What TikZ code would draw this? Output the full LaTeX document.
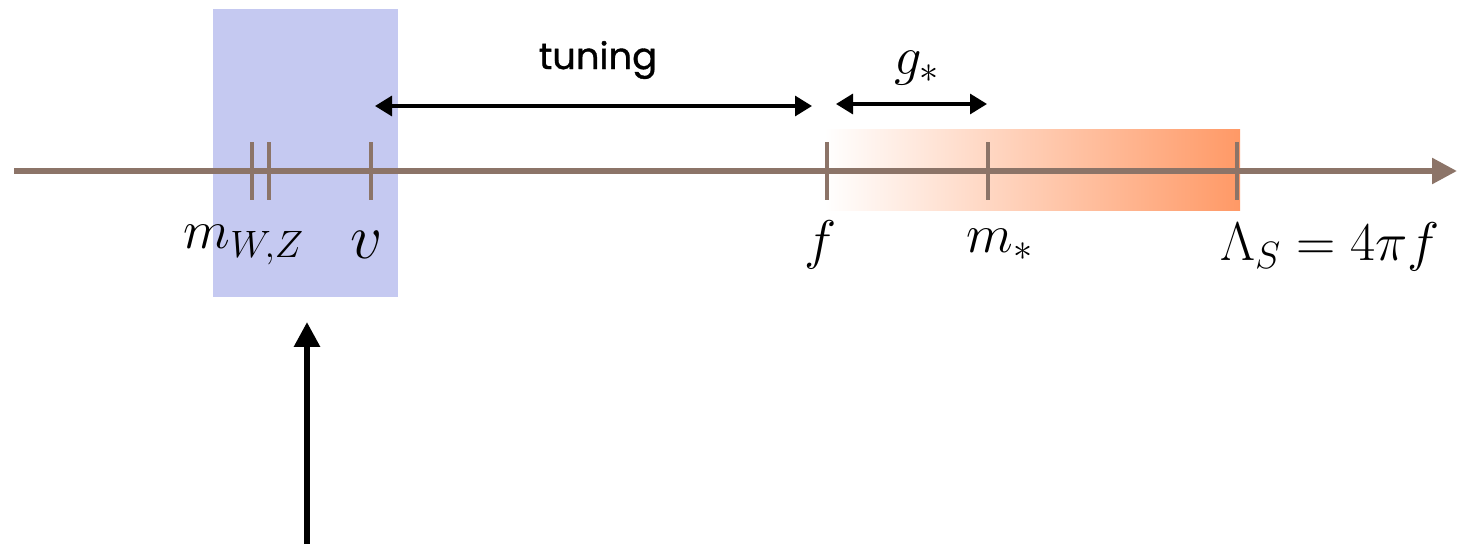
\RequirePackage{fix-cm}
\documentclass[tikz,border=0pt]{standalone}
\usepackage{fontspec}
\newfontfamily\tunefont[FakeBold=1]{Poppins}
\usetikzlibrary{arrows.meta}
\definecolor{ewsb}{HTML}{C5C9F1}
\definecolor{axis}{HTML}{8C7468}
\definecolor{peach}{HTML}{FF9966}

\begin{document}
\begin{tikzpicture}[x=0.02cm,y=-0.02cm,
   tick/.style={draw=axis,line width=2pt},
   lbl/.style={font=\fontsize{31}{38}\selectfont,inner sep=0pt},
   span/.style={{Triangle[length=0.34cm,width=0.4cm]}-{Triangle[length=0.34cm,width=0.4cm]},line width=1.8pt}]
  \useasboundingbox (0,0) rectangle (1457,544);
  % shaded regions
  \fill[ewsb] (213,9) rectangle (398,297);
  \shade[left color=white,right color=peach] (824,130) rectangle (1240,210);
  % energy axis
  \coordinate (start) at (14,171);
  \coordinate (end) at (1457,171);
  \draw[axis,line width=3.2pt,-{Triangle[length=0.5cm,width=0.5cm]}] (start) -- (end);
  \foreach \x/\n in {252/mw,269/mz,371/vt,827/ft,988/mt,1237/lt}
    \draw[tick] (\x,142) coordinate (\n) -- (\x,200);
  % scale labels
  \node[lbl] (mwz) at (244,245) {$m_{W,Z}$};
  \node[lbl,font=\fontsize{36}{42}\selectfont] (vev) at (367,245) {$v$};
  \node[lbl] (fs) at (821,245) {$f$};
  \node[lbl] (mstar) at (1000,245) {$m_*$};
  \node[lbl] (lam) at (1330,247) {$\Lambda_S=4\pi f$};
  % tuning and coupling
  \coordinate (tl) at (375,106);
  \coordinate (tr) at (812,106);
  \draw[span] (tl) -- (tr);
  \node[font=\tunefont\fontsize{21}{26}\selectfont] (tun) at (598,60) {tuning};
  \coordinate (gl) at (836,104);
  \coordinate (gr) at (987,104);
  \draw[span] (gl) -- (gr);
  \node[lbl] (gs) at (917,68) {$g_*$};
  % pointer
  \coordinate (foot) at (307,544);
  \coordinate (tip) at (307,322);
  \draw[line width=3.4pt,-{Triangle[length=0.5cm,width=0.5cm]}] (foot) -- (tip);
\end{tikzpicture}
\end{document}
